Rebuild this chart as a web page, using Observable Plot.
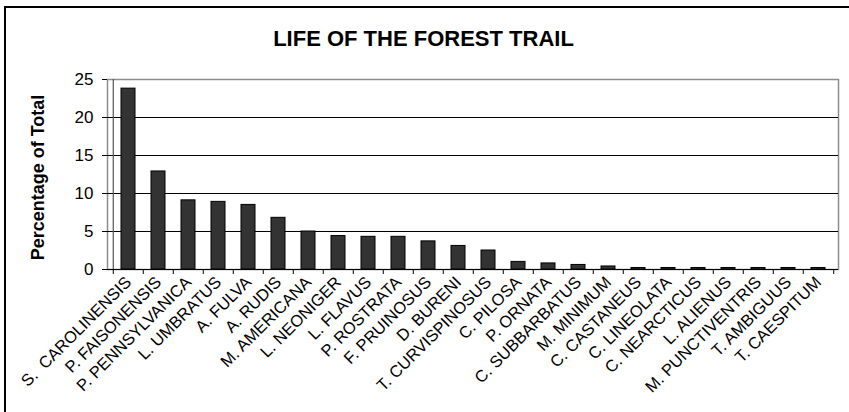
<!DOCTYPE html>
<html>
<head>
<meta charset="utf-8">
<script src="https://cdn.jsdelivr.net/npm/d3@7"></script>
<script src="https://cdn.jsdelivr.net/npm/@observablehq/plot@0.6"></script>
<style>
  html, body { margin: 0; padding: 0; background: #fff; }
  #wrap { position: relative; width: 849px; height: 412px; overflow: hidden; }
  #border { position: absolute; left: 4px; top: 6px; width: 900px; height: 500px; border: 2px solid #000; box-sizing: border-box; pointer-events: none; }
  svg text { white-space: pre; }
</style>
</head>
<body>
<div id="wrap"><div id="border"></div></div>
<script>
const species = [
  "S.  CAROLINENSIS", "P. FAISONENSIS", "P. PENNSYLVANICA", "L. UMBRATUS", "A. FULVA",
  "A. RUDIS", "M. AMERICANA", "L. NEONIGER", "L. FLAVUS", "P. ROSTRATA",
  "F. PRUINOSUS", "D. BURENI", "T. CURVISPINOSUS", "C. PILOSA", "P. ORNATA",
  "C. SUBBARBATUS", "M. MINIMUM", "C. CASTANEUS", "C. LINEOLATA", "C. NEARCTICUS",
  "L. ALIENUS", "M. PUNCTIVENTRIS", "T. AMBIGUUS", "T. CAESPITUM"
];
const percent = [
  23.8, 12.9, 9.1, 8.9, 8.5,
  6.8, 5.0, 4.4, 4.3, 4.3,
  3.7, 3.1, 2.5, 1.0, 0.8,
  0.6, 0.4, 0.2, 0.2, 0.2,
  0.2, 0.2, 0.2, 0.2
];
const yTicks = [0, 5, 10, 15, 20, 25];
const gridValues = [5, 10, 15, 20];
const title = "LIFE OF THE FOREST TRAIL";
const yTitle = "Percentage of Total";

const data = species.map((name, i) => ({name, value: percent[i]}));

const W = 849, H = 412;
const mL = 107, mR = 11, mT = 79, mB = 143;
const step = (W - mL - mR) / species.length;

const chart = Plot.plot({
  width: W,
  height: H,
  marginTop: mT,
  marginLeft: mL,
  marginRight: mR,
  marginBottom: mB,
  style: {fontFamily: "'Liberation Sans', Arial, sans-serif", background: "transparent", color: "#000"},
  x: {domain: species, paddingInner: 0.54, paddingOuter: 0.27, label: null},
  y: {domain: [0, 25], label: null},
  marks: [
    Plot.frame({stroke: "#8c8c8c", strokeWidth: 1.5}),
    Plot.ruleY(gridValues, {stroke: "#000", strokeWidth: 1}),
    Plot.barY(data, {x: "name", y: "value", fill: "#333333", stroke: "#000", strokeWidth: 1}),
    Plot.ruleY([0], {stroke: "#000", strokeWidth: 1.2}),
    Plot.ruleX([species[0]], {dx: -step / 2, y1: 0, y2: 25, stroke: "#555", strokeWidth: 1.2}),
    Plot.axisY({ticks: yTicks, tickSize: 5, tickPadding: 9, fontSize: 17, label: null}),
    Plot.axisX({tickSize: 5, text: null, dx: -step / 2, label: null}),
    Plot.axisX({ticks: [species[species.length - 1]], tickSize: 5, text: null, dx: step / 2, label: null}),
    Plot.axisX({tickSize: 0, tickPadding: 10, tickRotate: -45, fontSize: 16.5, label: null}),
    Plot.text([title], {frameAnchor: "top-left", dx: 423 - mL, dy: 45 - mT, textAnchor: "middle", lineAnchor: "bottom", fontSize: 22, fontWeight: "bold", fill: "#000"}),
    Plot.text([yTitle], {frameAnchor: "left", dx: 38 - mL, dy: 3, rotate: -90, textAnchor: "middle", lineAnchor: "middle", fontSize: 18, fontWeight: "bold", fill: "#000"})
  ]
});
document.getElementById("wrap").prepend(chart);
</script>
</body>
</html>
